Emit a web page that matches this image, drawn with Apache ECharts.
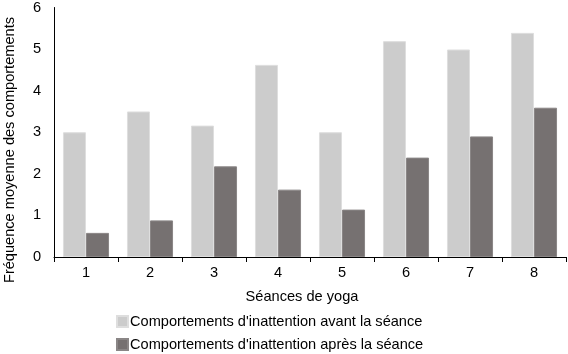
<!DOCTYPE html>
<html><head><meta charset="utf-8">
<script src="https://cdn.jsdelivr.net/npm/echarts@6/dist/echarts.min.js"></script>
<style>html,body{margin:0;padding:0;background:#fff}#c{width:568px;height:354px}</style>
</head><body><div id="c"></div>
<script>
var categories = ['1','2','3','4','5','6','7','8'];
var avant = [3.0, 3.5, 3.16, 4.62, 3.0, 5.19, 4.99, 5.39];
var apres = [0.58, 0.88, 2.18, 1.62, 1.14, 2.39, 2.90, 3.59];
var seriesNames = ["Comportements d'inattention avant la séance", "Comportements d'inattention après la séance"];
var xName = 'Séances de yoga';
var yName = 'Fréquence moyenne des comportements';
var font = '"Liberation Sans", Arial, sans-serif';
var fs = 14.6;
var chart = echarts.init(document.getElementById('c'));
function leg(name, top) {
  return {
    orient: 'horizontal', left: 111, top: top,
    itemWidth: 11, itemHeight: 11, icon: 'rect',
    textStyle: {color: '#000', fontSize: fs, fontFamily: font, padding: [0, 0, 0, -3]},
    data: [name]
  };
}
chart.setOption({
  animation: false,
  textStyle: {fontFamily: font},
  grid: {left: 54, right: 2, top: 7, bottom: 97, containLabel: false},
  xAxis: {
    type: 'category', data: categories,
    axisLine: {lineStyle: {color: '#000', width: 1}},
    axisTick: {show: true, length: 5, lineStyle: {color: '#000'}},
    axisLabel: {color: '#000', fontSize: fs, margin: 8, fontFamily: font},
    name: xName, nameLocation: 'middle', nameGap: 32,
    nameTextStyle: {color: '#000', fontSize: fs, fontFamily: font, padding: [0, 16, 0, 0]}
  },
  yAxis: {
    type: 'value', min: 0, max: 6, interval: 1,
    axisLine: {show: true, lineStyle: {color: '#000', width: 1}},
    axisTick: {show: false},
    splitLine: {show: false},
    axisLabel: {color: '#000', fontSize: fs, margin: 13, fontFamily: font}
  },
  legend: [leg(seriesNames[0], 309), leg(seriesNames[1], 332)],
  graphic: [{
    type: 'text', x: 10, y: 150, rotation: Math.PI / 2,
    style: {text: yName, fill: '#000', font: fs + 'px ' + font, textAlign: 'center', textVerticalAlign: 'middle'}
  }],
  series: [
    {name: seriesNames[0], type: 'bar', data: avant, barGap: '0%', barCategoryGap: '28%',
     itemStyle: {color: '#cccccc', borderColor: '#dedede', borderWidth: 1}},
    {name: seriesNames[1], type: 'bar', data: apres, barGap: '0%', barCategoryGap: '28%',
     itemStyle: {color: '#767171', borderColor: '#8a8686', borderWidth: 1}}
  ]
});
</script></body></html>
